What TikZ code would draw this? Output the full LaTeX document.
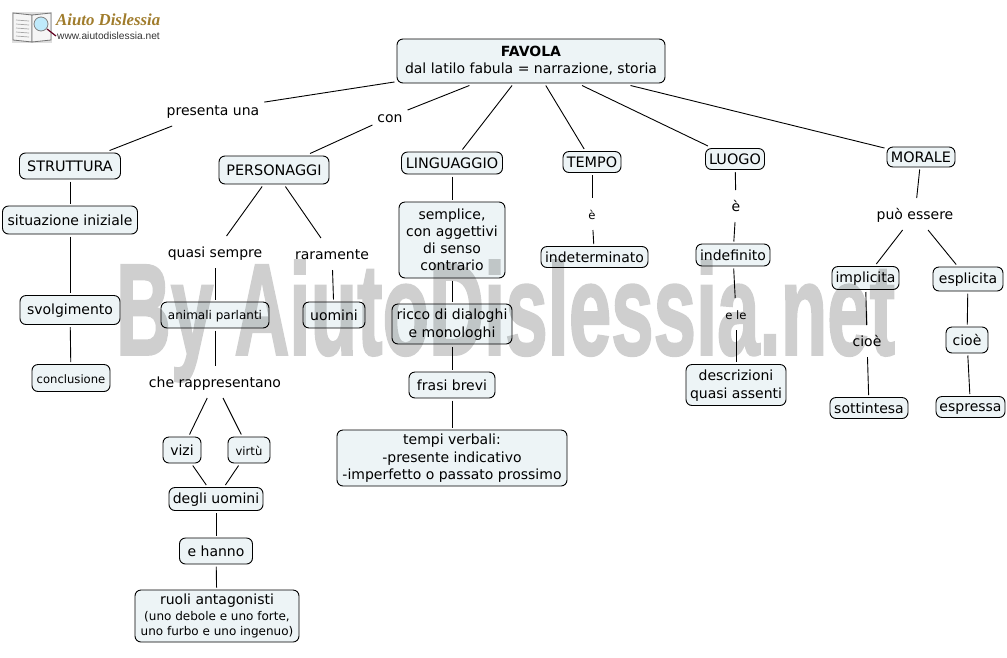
\documentclass[tikz,border=0pt]{standalone}
\usepackage{fontspec}
\setmainfont{DejaVu Sans}
\newfontfamily\wmfont[FakeBold=2]{Liberation Sans}
\newfontfamily\logofont{Liberation Serif}
\newfontfamily\urlfont{Liberation Sans}
\usetikzlibrary{calc}
\definecolor{boxfill}{HTML}{EDF4F6}
\definecolor{logobrown}{HTML}{A07C2C}
\tikzset{
  box/.style={draw=black,line width=.9pt,fill=boxfill,rounded corners=6pt,align=center,inner sep=0pt,outer sep=2.5pt,font=\fontsize{14}{17.2}\selectfont},
  small/.style={font=\fontsize{11.6}{14.5}\selectfont},
  caps/.style={font=\fontsize{14.4}{17.2}\selectfont},
  lab/.style={align=center,inner xsep=3pt,inner ysep=0pt,outer sep=2pt,minimum height=28pt,text height=12pt,text depth=2pt,font=\fontsize{14}{17.2}\selectfont},
  conn/.style={line width=.9pt,black},
}
\newcommand{\bx}[6][]{\node[box,minimum width=#4pt,minimum height=#5pt,#1] (#2) at #3 {\rule{0pt}{12pt}#6\rule[-2pt]{0pt}{0pt}};}
\begin{document}
\begin{tikzpicture}[x=1pt,y=-1pt]
\useasboundingbox (0,0) rectangle (1007,657);
% logo
\fill[gray!25] (12,12) rectangle (52,43);
\draw[black!55,line width=.8pt,fill=white!92!gray] (13,13) -- (32,15) -- (32,42) -- (13,40) -- cycle;
\draw[black!55,line width=.8pt,fill=white!92!gray] (51,13) -- (32,15) -- (32,42) -- (51,40) -- cycle;
\foreach \yy in {20,24,28,32,36}{\draw[gray!70,line width=.7pt] (16,\yy) -- (29,\yy+1);}
\draw[purple!50!black,line width=1.2pt] (47,29) -- (56,36);
\draw[gray,fill=cyan!25,line width=.8pt] (41,24) circle (7);
\node[inner sep=0pt,anchor=west,text=logobrown,font=\logofont\bfseries\itshape\fontsize{16.8}{15}\selectfont] (logotitle) at (56,20) {Aiuto Dislessia};
\node[inner sep=0pt,anchor=west,text=black!80,font=\urlfont\fontsize{10.2}{10}\selectfont] (logourl) at (57,36) {www.aiutodislessia.net};
% nodes
\bx{favola}{(531,61)}{268}{44}{\textbf{FAVOLA}\\dal latilo fabula = narrazione, storia\rule[-4pt]{0pt}{0pt}}
\node[lab] (presenta) at (213,110) {presenta una};
\node[lab] (con) at (390,117) {con};
\bx[caps]{strutt}{(70,166)}{101}{26}{STRUTTURA}
\bx[caps]{perso}{(274,170)}{110}{28}{PERSONAGGI}
\bx[caps]{ling}{(452,163)}{101}{22}{LINGUAGGIO}
\bx[caps]{tempo}{(592,162)}{58}{21}{TEMPO}
\bx[caps]{luogo}{(735,159)}{59}{21}{LUOGO}
\bx[caps]{morale}{(921,157)}{68}{20}{MORALE}
\bx{sit}{(70,220)}{135}{28}{situazione iniziale}
\bx{svol}{(70,310)}{100}{29}{svolgimento}
\bx[small]{concl}{(71,378)}{78}{27}{conclusione}
\node[lab] (quasi) at (215,252) {quasi sempre};
\node[lab] (rara) at (332,254) {raramente};
\bx[font=\fontsize{12}{14.5}\selectfont]{anim}{(215,315)}{108}{26}{animali parlanti}
\bx{uom}{(334,315)}{62}{26}{uomini}
\node[lab] (che) at (215,382) {che rappresentano};
\bx{vizi}{(182,450)}{38}{26}{vizi}
\bx[small]{virtu}{(249,450)}{42}{26}{virtù}
\bx{degli}{(216,499)}{94}{23}{degli uomini}
\bx{ehanno}{(216,551)}{73}{26}{e hanno}
\bx{ruoli}{(217,616)}{164}{52}{ruoli antagonisti\\[-2pt]{\fontsize{12}{14.5}\selectfont (uno debole e uno forte,}\\[-2pt]{\fontsize{12}{14.5}\selectfont uno furbo e uno ingenuo)}\rule[-4pt]{0pt}{0pt}}
\bx{sempl}{(452,240)}{106}{76}{semplice,\\con aggettivi\\di senso\\contrario}
\bx{ricco}{(452,324)}{120}{40}{ricco di dialoghi\\e monologhi}
\bx{frasi}{(452,385)}{86}{26}{frasi brevi}
\bx{tv}{(452,458)}{230}{56}{tempi verbali:\\-presente indicativo\\-imperfetto o passato prossimo\rule[-4pt]{0pt}{0pt}}
\node[lab,small] (e1) at (592,214) {è};
\bx{indet}{(594.5,257)}{107}{21}{indeterminato}
\node[lab] (e2) at (736,206) {è};
\bx{indef}{(733,255)}{74}{22}{indefinito}
\node[lab,small] (ele) at (736,314) {e le};
\bx{descr}{(736,385)}{100}{41}{descrizioni\\quasi assenti}
\node[lab] (puo) at (915,214) {può essere};
\bx{impl}{(865.5,278)}{67}{23}{implicita}
\bx{espl}{(968,279)}{70}{24}{esplicita}
\node[lab] (cioe1) at (867,341) {cioè};
\bx{cioe2}{(967,340)}{42}{26}{cioè}
\bx{sott}{(869,408)}{78}{21}{sottintesa}
\bx{espr}{(970.5,407)}{69}{21}{espressa}
% connectors
\foreach \a/\b in {favola/presenta,presenta/strutt,favola/con,con/perso,favola/ling,favola/tempo,favola/luogo,favola/morale,
 strutt/sit,sit/svol,svol/concl,perso/quasi,perso/rara,quasi/anim,rara/uom,anim/che,che/vizi,che/virtu,vizi/degli,virtu/degli,degli/ehanno,ehanno/ruoli,
 ling/sempl,sempl/ricco,ricco/frasi,frasi/tv,tempo/e1,e1/indet,luogo/e2,e2/indef,indef/ele,ele/descr,morale/puo,puo/impl,puo/espl,impl/cioe1,cioe1/sott,espl/cioe2,cioe2/espr}{
  \draw[conn] (\a) -- (\b);
}
% watermark
\begin{scope}[transparency group,opacity=.19]
\node[inner sep=0pt,text=black,xscale=.762,yscale=1.3,transform shape,font=\wmfont\bfseries\fontsize{100}{100}\selectfont] (wm) at (505.5,321) {By AiutoDislessia.net};
\end{scope}
\end{tikzpicture}
\end{document}
